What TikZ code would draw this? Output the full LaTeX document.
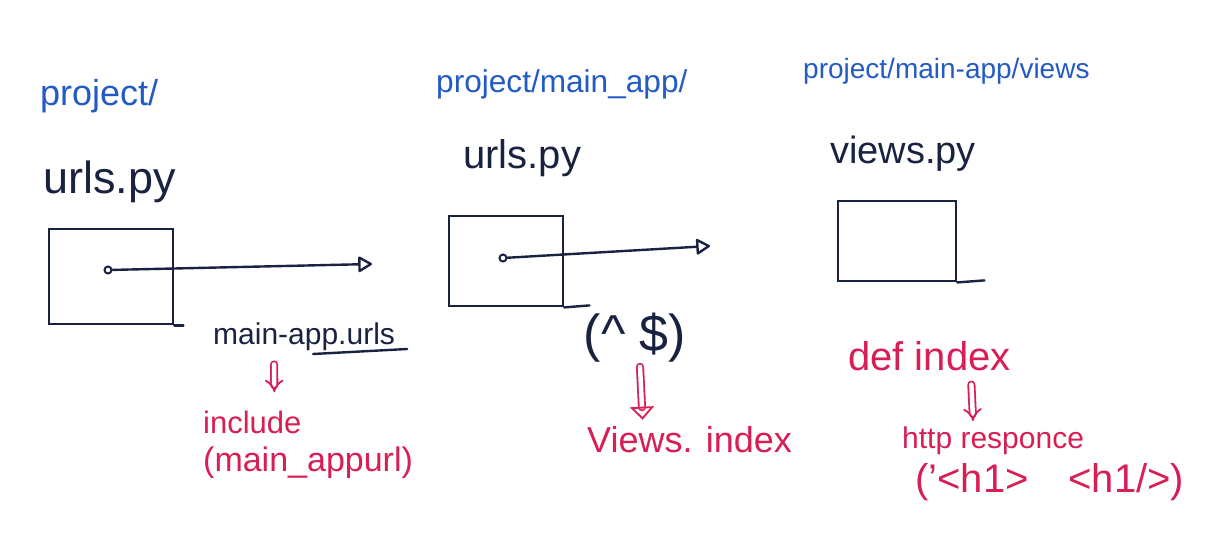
\documentclass[tikz,border=0pt]{standalone}
\usepackage{fontspec}
\setmainfont{Liberation Sans}
\usetikzlibrary{arrows.meta,positioning,calc}

\definecolor{inkblue}{RGB}{35,90,195}
\definecolor{inkdark}{RGB}{25,35,65}
\definecolor{inkred}{RGB}{215,30,85}
\newcommand{\pensize}[1]{\fontsize{#1}{#1}\selectfont}

\begin{document}
\begin{tikzpicture}[
  x=1pt, y=-1pt,
  >={Triangle[open,round,length=15pt,width=17pt]},
  folder/.style={text=inkblue, inner sep=0pt, anchor=base west},
  file/.style={text=inkdark, inner sep=0pt, anchor=base west},
  note/.style={text=inkred, inner sep=0pt, anchor=base west},
  frame/.style={draw=inkdark, line width=2.4pt, inner sep=0pt, anchor=north west},
  pin/.style={circle, draw=inkdark, line width=2pt, inner sep=0pt, minimum size=7pt},
  ink/.style={draw=inkdark, line width=2.4pt, line cap=round},
  link/.style={ink, ->},
  dbl/.style={draw=inkred, line width=1.8pt, double=white, double distance=4.5pt,
              line cap=round},
]
\useasboundingbox (0,0) rectangle (1216,541);

% ------------------------------------------------------------ project/urls.py
\node[folder, font=\pensize{36}] (projA) at (40,105) {project/};
\node[file, font=\pensize{45}] (urlsA) at (43,193) {urls.py};
\node[frame, minimum width=124pt, minimum height=95pt] (boxA) at (48,228) {};
\draw[ink] (boxA.south east) -- ++(9,0);
\node[pin] (pinA) at (108,270) {};
\coordinate (endA) at (372,264);
\draw[link] (pinA) -- (endA);

\node[file, font=\pensize{30}] (murl) at (213,344) {main-app.urls};
\draw[ink] ($(murl.base west)+(100,10)$) -- ($(murl.base east)+(12,5)$);
\node[note, font=\pensize{31}] (incl) at (203,433) {include};
\node[note, font=\pensize{34}, below=38pt of incl.base west, anchor=base west] (inclarg)
     {(main\_appurl)};
\draw[dbl, -{Implies[scale=1.4]}] ([shift={(-30,14)}]murl.south) -- ([shift={(22,-18)}]incl.north);

% --------------------------------------------------- project/main_app/urls.py
\node[folder, font=\pensize{31.6}] (projB) at (436,92) {project/main\_app/};
\node[file, font=\pensize{40}] (urlsB) at (463,168) {urls.py};
\node[frame, minimum width=114pt, minimum height=90pt] (boxB) at (448,215) {};
\draw[ink] (boxB.south east) -- ++(25,-2);
\node[pin] (pinB) at (503,258) {};
\coordinate (endB) at (710,246);
\draw[link] (pinB) -- (endB);

\node[text=inkdark, inner sep=0pt, font=\pensize{52}] (regex) at (635,338)
     {(\textasciicircum\ \$)};
\node[note, font=\pensize{36}] (vidx) at (587,452) {Views. index};
\draw[dbl, -{Triangle[open,length=13pt,width=24pt]}]
     ([shift={(5,4)}]regex.south) -- ([shift={(-47,-6)}]vidx.north);

% ------------------------------------------------ project/main-app/views.py
\node[folder, font=\pensize{28}] (projC) at (803,78) {project/main-app/views};
\node[file, font=\pensize{38}] (viewsC) at (830,163) {views.py};
\node[frame, minimum width=118pt, minimum height=80pt] (boxC) at (837,200) {};
\draw[ink] (boxC.south east) -- ++(27,-2);

\node[note, font=\pensize{40}] (defidx) at (848,370) {def index};
\node[note, font=\pensize{30}] (resp) at (902,448) {http responce};
\node[note, font=\pensize{40}, below=44pt of resp.base west, anchor=base west, xshift=13pt]
     (resparg) {('<h1>\hspace{40pt}<h1/>)};
\draw[dbl, -{Implies[scale=1.4]}] ([shift={(42,14)}]defidx.south) -- ([shift={(-20,-5)}]resp.north);
\end{tikzpicture}
\end{document}
